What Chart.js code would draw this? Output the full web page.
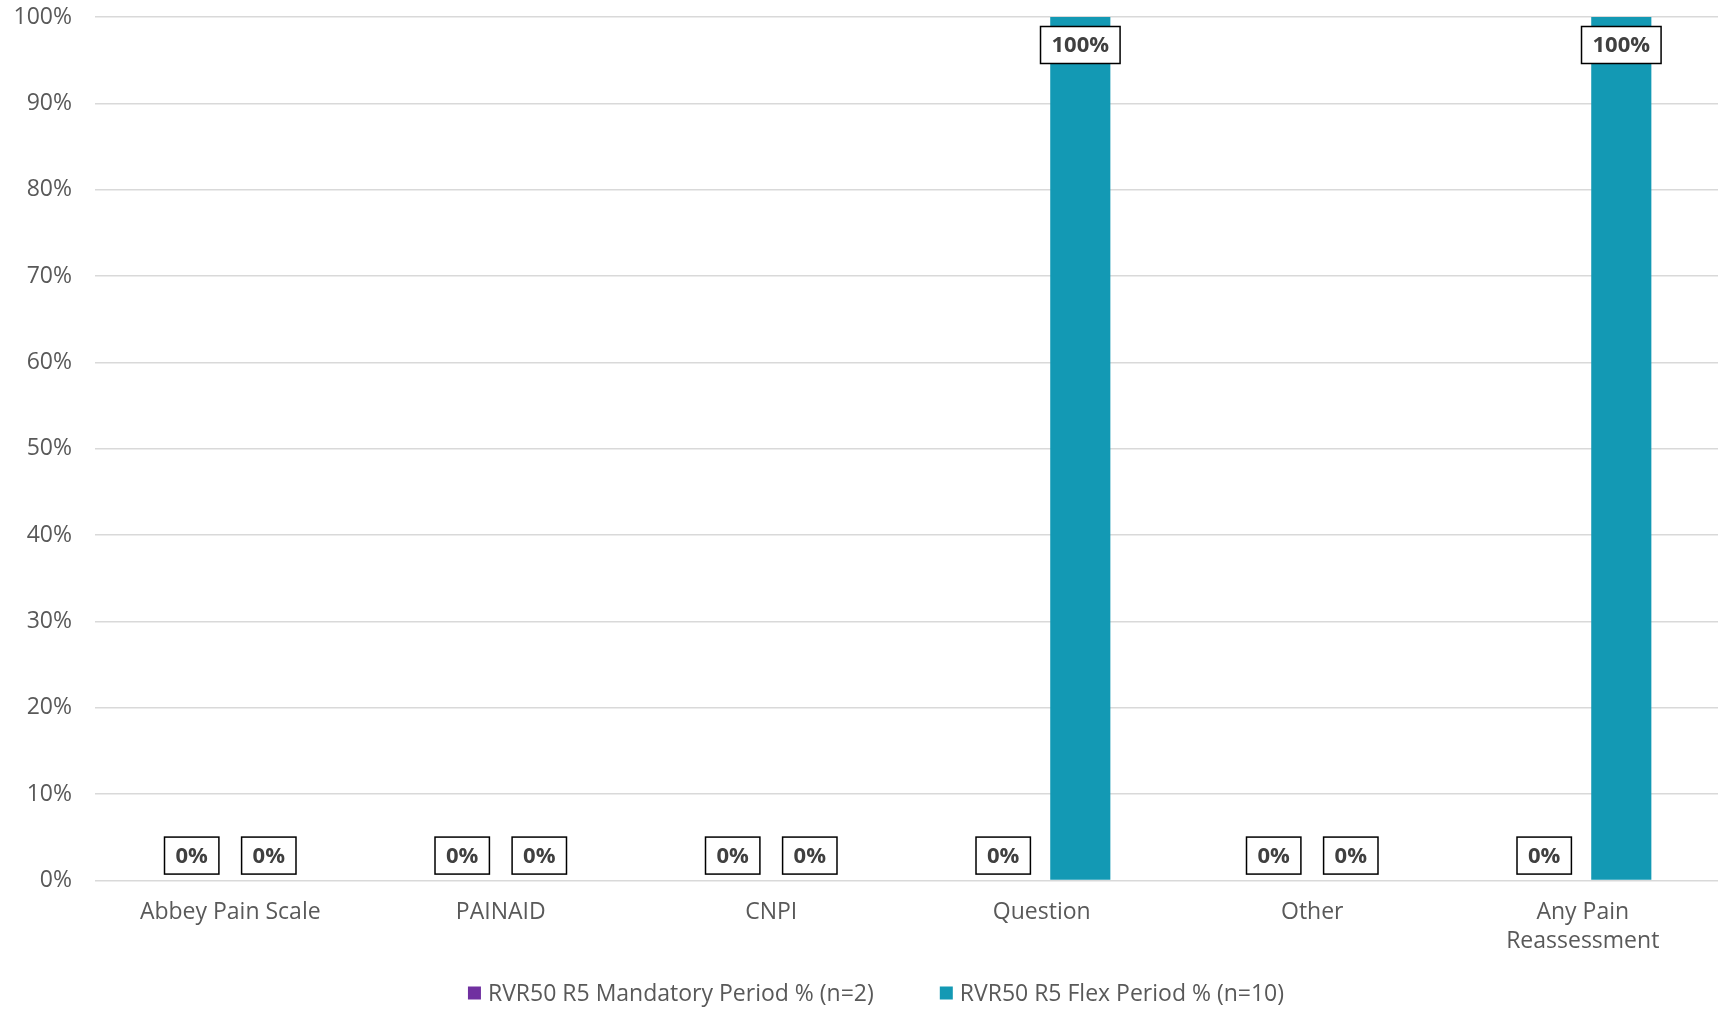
<!DOCTYPE html>
<html>
<head>
<meta charset="utf-8">
<script src="https://cdn.jsdelivr.net/npm/chart.js@4"></script>
<style>
  html, body { margin: 0; padding: 0; background: #fff; }
  #wrap { width: 1722px; height: 1011px; position: relative; }
</style>
</head>
<body>
<div id="wrap"><canvas id="chart"></canvas></div>
<script>
const categories = [
  "Abbey Pain Scale",
  "PAINAID",
  "CNPI",
  "Question",
  "Other",
  ["Any Pain", "Reassessment"],
];
const mandatoryLabel = "RVR50 R5 Mandatory Period % (n=2)";
const flexLabel = "RVR50 R5 Flex Period % (n=10)";
const mandatoryValues = [0, 0, 0, 0, 0, 0];
const flexValues = [0, 0, 0, 100, 0, 100];
const yTicks = [0, 10, 20, 30, 40, 50, 60, 70, 80, 90, 100];

const fontFamily = "'Open Sans', 'Noto Sans', sans-serif";
const textColor = "#595959";
const fontSize = 23;

// boxed value labels, like the excel data labels
const boxLabels = {
  id: "boxLabels",
  afterDatasetsDraw(chart) {
    const ctx = chart.ctx;
    ctx.save();
    ctx.font = "bold 22px " + fontFamily;
    ctx.textAlign = "center";
    ctx.textBaseline = "middle";
    chart.data.datasets.forEach((ds, i) => {
      const meta = chart.getDatasetMeta(i);
      meta.data.forEach((bar, j) => {
        const v = ds.data[j];
        const txt = v + "%";
        const w = ctx.measureText(txt).width + 22;
        const h = 37;
        const cy = v === 0 ? bar.y - 25 : bar.y + 28;
        ctx.fillStyle = "#fff";
        ctx.fillRect(bar.x - w / 2, cy - h / 2, w, h);
        ctx.strokeStyle = "#000";
        ctx.lineWidth = 1.5;
        ctx.strokeRect(bar.x - w / 2, cy - h / 2, w, h);
        ctx.fillStyle = "#404040";
        ctx.fillText(txt, bar.x, cy + 1);
      });
    });
    ctx.restore();
  },
};

// legend drawn by hand so the gap between items can be wide
const bottomLegend = {
  id: "bottomLegend",
  afterDraw(chart) {
    const ctx = chart.ctx;
    ctx.save();
    ctx.font = fontSize + "px " + fontFamily;
    ctx.textBaseline = "middle";
    const box = 13, gap = 7, between = 66;
    const items = chart.data.datasets.map((ds) => ({
      text: ds.label,
      color: ds.backgroundColor,
      w: box + gap + ctx.measureText(ds.label).width,
    }));
    const total = items.reduce((s, it) => s + it.w, 0) + between * (items.length - 1);
    let x = chart.width / 2 + 15 - total / 2;
    const y = chart.height - 18;
    items.forEach((it) => {
      ctx.fillStyle = it.color;
      ctx.fillRect(x, y - box / 2, box, box);
      ctx.fillStyle = textColor;
      ctx.fillText(it.text, x + box + gap, y + 1);
      x += it.w + between;
    });
    ctx.restore();
  },
};

new Chart(document.getElementById("chart"), {
  type: "bar",
  data: {
    labels: categories,
    datasets: [
      {
        label: mandatoryLabel,
        data: mandatoryValues,
        backgroundColor: "#7030A0",
        borderWidth: 0,
      },
      {
        label: flexLabel,
        data: flexValues,
        backgroundColor: "#1399B4",
        borderWidth: 0,
      },
    ],
  },
  options: {
    responsive: true,
    maintainAspectRatio: false,
    animation: false,
    layout: { padding: { top: 17, right: 4, left: 15, bottom: 46 } },
    datasets: {
      bar: { categoryPercentage: 0.57, barPercentage: 0.78 },
    },
    plugins: {
      legend: { display: false },
      tooltip: { enabled: false },
    },
    scales: {
      x: {
        grid: { display: false },
        border: { display: false },
        afterFit: (axis) => {
          axis.paddingLeft = 0;
          axis.paddingRight = 0;
        },
        ticks: {
          color: textColor,
          font: { family: fontFamily, size: fontSize, lineHeight: 1.27 },
          padding: 9,
          maxRotation: 0,
        },
      },
      y: {
        min: 0,
        max: 100,
        afterBuildTicks: (axis) => {
          axis.ticks = yTicks.map((v) => ({ value: v }));
        },
        afterFit: (axis) => {
          axis.paddingTop = 0;
          axis.paddingBottom = 0;
          axis.width = 80;
        },
        grid: { color: "#d9d9d9", lineWidth: 1.5, drawTicks: false },
        border: { display: false },
        ticks: {
          color: textColor,
          font: { family: fontFamily, size: fontSize },
          padding: 23,
          callback: (v) => v + "%",
        },
      },
    },
  },
  plugins: [boxLabels, bottomLegend],
});
</script>
</body>
</html>
